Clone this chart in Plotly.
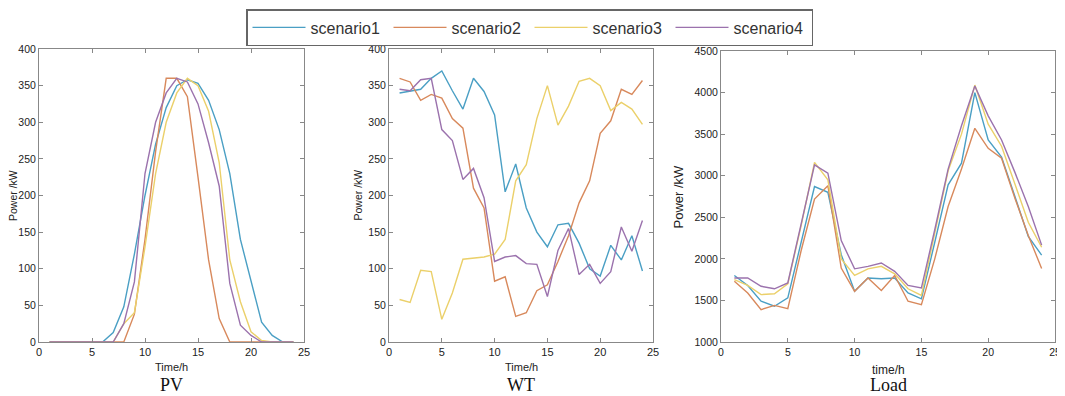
import plotly.graph_objects as go

hours = list(range(1, 25))
scenarios = ["scenario1", "scenario2", "scenario3", "scenario4"]
colors = ["#4a9fc4", "#d8895c", "#ebd06a", "#9b72ad"]

pv_s1 = [0, 0, 0, 0, 0, 0, 13, 48, 120, 200, 270, 320, 350, 358, 353, 330, 290, 230, 140, 83, 27, 9, 0, 0]
pv_s2 = [0, 0, 0, 0, 0, 0, 0, 0, 38, 140, 260, 360, 360, 335, 225, 112, 32, 0, 0, 0, 0, 0, 0, 0]
pv_s3 = [0, 0, 0, 0, 0, 0, 0, 25, 40, 130, 230, 300, 340, 360, 350, 315, 245, 112, 55, 14, 2, 0, 0, 0]
pv_s4 = [0, 0, 0, 0, 0, 0, 0, 25, 82, 230, 300, 340, 360, 355, 325, 272, 213, 80, 23, 9, 0, 0, 0, 0]

wt_s1 = [340, 343, 345, 360, 370, 343, 318, 360, 342, 310, 205, 243, 183, 150, 130, 160, 162, 135, 100, 90, 132, 112, 145, 97]
wt_s2 = [360, 355, 330, 338, 333, 305, 292, 210, 183, 83, 89, 35, 40, 70, 78, 110, 145, 190, 220, 285, 302, 345, 338, 357]
wt_s3 = [58, 54, 98, 96, 31, 67, 113, 114, 116, 120, 140, 220, 242, 305, 350, 296, 322, 356, 360, 350, 316, 327, 318, 297]
wt_s4 = [345, 343, 358, 360, 290, 275, 222, 237, 197, 110, 116, 118, 107, 106, 62, 125, 155, 92, 106, 80, 96, 157, 124, 166]

load_s1 = [1800, 1680, 1490, 1430, 1530, 2200, 2870, 2800, 2050, 1610, 1770, 1760, 1770, 1590, 1520, 2200, 2890, 3150, 4000, 3430, 3225, 2750, 2270, 2045]
load_s2 = [1730, 1590, 1390, 1440, 1400, 2100, 2720, 2880, 1890, 1610, 1770, 1620, 1800, 1490, 1450, 2000, 2630, 3080, 3570, 3330, 3210, 2730, 2280, 1885]
load_s3 = [1750, 1680, 1570, 1580, 1700, 2400, 3160, 2950, 2000, 1800, 1880, 1910, 1820, 1640, 1560, 2300, 3060, 3500, 4090, 3620, 3355, 2900, 2440, 2140]
load_s4 = [1770, 1770, 1670, 1640, 1710, 2420, 3130, 3030, 2220, 1880, 1910, 1950, 1850, 1680, 1650, 2350, 3080, 3600, 4080, 3720, 3430, 3040, 2630, 2165]

panel_titles = ["PV", "WT", "Load"]
x_titles = ["Time/h", "Time/h", "time/h"]
y_title = "Power /kW"
y_ranges = [[0, 400], [0, 400], [1000, 4500]]
y_dtick = [50, 50, 500]

# The page body has an 8px margin, so the figure starts at (8, 8) in the window.
OFF = 8
W, H = 1065 - OFF, 396 - OFF


def px(x):
    return (x - OFF) / W


def py(y):
    return 1 - (y - OFF) / H


# plot-area pixel boxes in window coords (left, right, top, bottom)
boxes = [(39, 304, 49, 342), (389, 653, 49, 342), (721, 1055, 51, 342)]

data = [
    [pv_s1, pv_s2, pv_s3, pv_s4],
    [wt_s1, wt_s2, wt_s3, wt_s4],
    [load_s1, load_s2, load_s3, load_s4],
]

fig = go.Figure()
for p, series in enumerate(data):
    xa = "x" if p == 0 else f"x{p+1}"
    ya = "y" if p == 0 else f"y{p+1}"
    for i, vals in enumerate(series):
        fig.add_trace(go.Scatter(
            x=hours, y=vals, mode="lines", name=scenarios[i],
            line=dict(color=colors[i], width=1.4),
            xaxis=xa, yaxis=ya, showlegend=(p == 0),
        ))

layout = dict(
    width=W, height=H, margin=dict(l=0, r=0, t=0, b=0, autoexpand=False),
    paper_bgcolor="white", plot_bgcolor="white",
    font=dict(family="Liberation Sans, Arial", color="#222"),
    showlegend=True,
    legend=dict(
        orientation="h", x=px(246), xanchor="left", y=py(9), yanchor="top",
        bordercolor="#666", borderwidth=1.5, bgcolor="white",
        font=dict(size=16, color="#333"), itemwidth=53,
        entrywidth=73, entrywidthmode="pixels",
    ),
)
annotations = []
for p, (l, r, t, b) in enumerate(boxes):
    sfx = "" if p == 0 else str(p + 1)
    tick_size = 10.5
    layout["xaxis" + sfx] = dict(
        domain=[px(l), px(r)], anchor="y" + sfx, range=[0, 25], dtick=5,
        showline=True, linecolor="#888", linewidth=1, mirror="ticks",
        ticks="inside", ticklen=4, tickcolor="#888", showgrid=False, zeroline=False,
        tickfont=dict(size=11 if p < 2 else 10.5, color="#222"),
        ticklabeloverflow="allow",
    )
    layout["yaxis" + sfx] = dict(
        domain=[py(b), py(t)], anchor="x" + sfx, range=y_ranges[p], dtick=y_dtick[p],
        showline=True, linecolor="#888", linewidth=1, mirror="ticks",
        ticks="inside", ticklen=4, tickcolor="#888", showgrid=False, zeroline=False,
        tickfont=dict(size=tick_size, color="#222"),
    )
    cx = (l + r) / 2
    annotations.append(dict(
        text=x_titles[p], x=px(cx), y=py(367 if p < 2 else 370), xref="paper", yref="paper",
        showarrow=False, xanchor="center", yanchor="middle",
        font=dict(size=11 if p < 2 else 12, color="#222"),
    ))
    ylx = [12.5, 357, 678][p]
    annotations.append(dict(
        text=y_title, x=px(ylx), y=py((t + b) / 2), xref="paper", yref="paper",
        showarrow=False, xanchor="center", yanchor="middle", textangle=-90,
        font=dict(size=10.5 if p < 2 else 13, color="#222"),
    ))
    annotations.append(dict(
        text=panel_titles[p], x=px(cx), y=0, xref="paper", yref="paper",
        showarrow=False, xanchor="center", yanchor="bottom", borderpad=0,
        font=dict(size=18, family="Liberation Serif, Times New Roman", color="#111"),
    ))
layout["annotations"] = annotations
fig.update_layout(**layout)
fig.write_html("out.html")
